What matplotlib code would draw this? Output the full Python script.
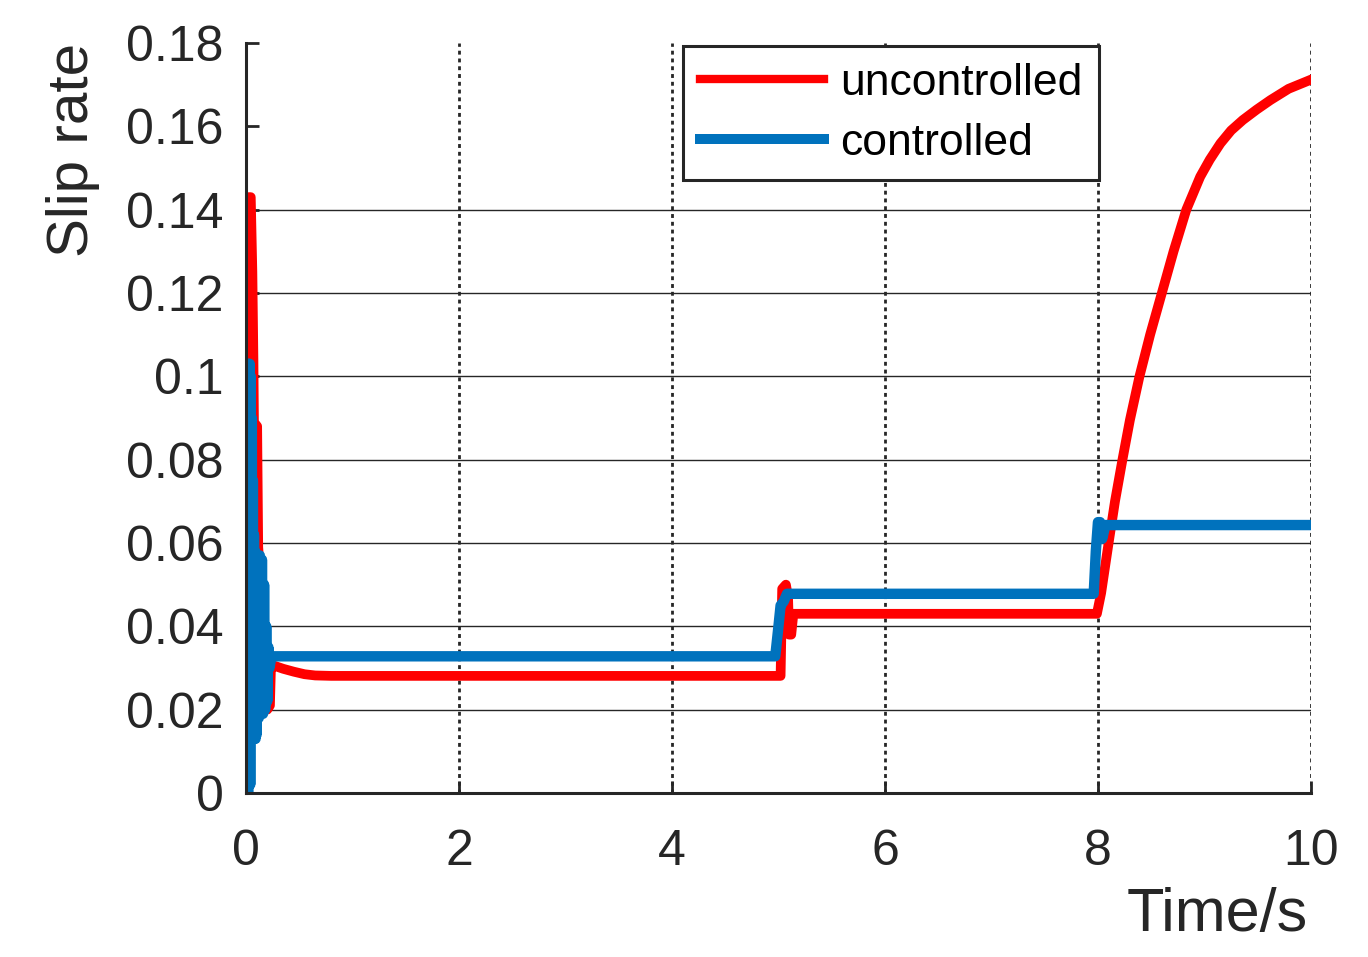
import numpy as np
import matplotlib
matplotlib.use("Agg")
import matplotlib.pyplot as plt

plt.rcParams['font.family'] = ['Liberation Sans', 'DejaVu Sans']

# uncontrolled slip rate
t_unc = [0.0, 0.01, 0.025, 0.045, 0.06, 0.07, 0.075, 0.105, 0.115, 0.14, 0.17,
         0.20, 0.225, 0.235, 0.27, 0.35, 0.45, 0.55, 0.65, 0.8,
         5.02, 5.035, 5.07, 5.09, 5.10, 5.12, 5.14,
         7.99, 8.03, 8.10, 8.16, 8.23, 8.30, 8.39, 8.49, 8.60, 8.71, 8.83, 8.96,
         9.05, 9.15, 9.25, 9.36, 9.49, 9.62, 9.79, 10.0]
s_unc = [0.0, 0.10, 0.143, 0.143, 0.125, 0.104, 0.089, 0.088, 0.059, 0.05, 0.03,
         0.02, 0.021, 0.0305, 0.0305, 0.0298, 0.0291, 0.0285, 0.0282, 0.0281,
         0.0281, 0.049, 0.050, 0.047, 0.038, 0.038, 0.043,
         0.043, 0.048, 0.060, 0.070, 0.080, 0.0895, 0.100, 0.110, 0.120, 0.130, 0.140, 0.1479,
         0.152, 0.1559, 0.159, 0.1615, 0.164, 0.1663, 0.169, 0.1712]

# controlled slip rate
t_ctl = [0.000, 0.005, 0.010, 0.015, 0.020, 0.025, 0.030, 0.035, 0.040, 0.045,
         0.050, 0.055, 0.060, 0.065, 0.070, 0.075, 0.080, 0.085, 0.090, 0.095,
         0.100, 0.110, 0.120, 0.130, 0.140, 0.150, 0.160, 0.170, 0.180, 0.190,
         0.200, 0.210, 0.220, 0.240,
         4.97, 5.00, 5.02, 5.05, 5.08, 7.96, 7.98, 8.00, 8.02, 8.04, 8.07, 10.0]
s_ctl = [0.0, 0.065, 0.0, 0.095, 0.0, 0.103, 0.002, 0.103, 0.002, 0.100,
         0.013, 0.090, 0.013, 0.075, 0.013, 0.062, 0.013, 0.058, 0.013, 0.057,
         0.014, 0.057, 0.018, 0.057, 0.019, 0.056, 0.019, 0.050, 0.020, 0.040,
         0.022, 0.035, 0.030, 0.0328,
         0.0328, 0.040, 0.045, 0.046, 0.0478, 0.0478, 0.058, 0.065, 0.065, 0.061, 0.0643, 0.0643]

xticks = [0, 2, 4, 6, 8, 10]
yticks = [0, 0.02, 0.04, 0.06, 0.08, 0.1, 0.12, 0.14, 0.16, 0.18]
ytick_labels = ["0", "0.02", "0.04", "0.06", "0.08", "0.1", "0.12", "0.14", "0.16", "0.18"]

axis_col = "#262626"

fig = plt.figure(figsize=(13.68, 9.57), dpi=100)
ax = fig.add_axes([0.1798, 0.1714, 0.9583 - 0.1798, 0.9551 - 0.1714])

ax.plot(t_unc, s_unc, color="#ff0000", lw=7.0, label="uncontrolled", solid_joinstyle="round")
ax.plot(t_ctl, s_ctl, color="#0072bd", lw=7.5, label="controlled", solid_joinstyle="round")

ax.set_xlim(0, 10)
ax.set_ylim(0, 0.18)
ax.set_xticks(xticks)
ax.set_yticks(yticks)
ax.set_yticklabels(ytick_labels)

# horizontal solid grid (only 0.02 .. 0.14 visible in the original)
for y in yticks[1:8]:
    ax.axhline(y, color=axis_col, lw=1.0, zorder=0.5)
# vertical dotted grid
for x in xticks[1:]:
    ax.axvline(x, color=axis_col, lw=2.0, ls=(0, (1.4, 1.4)), zorder=0.5)

for side in ["top", "right"]:
    ax.spines[side].set_visible(False)
for side in ["left", "bottom"]:
    ax.spines[side].set_linewidth(2.2)
    ax.spines[side].set_color(axis_col)

ax.tick_params(axis="both", direction="in", length=9, width=2, colors=axis_col,
               labelsize=36, labelcolor=axis_col)
ax.tick_params(axis="x", pad=26)
ax.tick_params(axis="y", pad=16)

ax.set_ylabel("Slip rate", fontsize=42, color=axis_col, loc="top")
ax.yaxis.set_label_coords(-0.137, 1.0)
ax.set_xlabel("Time/s", fontsize=44, color=axis_col, loc="right")
ax.xaxis.set_label_coords(0.997, -0.125)

leg = ax.legend(loc="upper right", bbox_to_anchor=(0.801, 0.996), fontsize=32,
                frameon=True, fancybox=False, framealpha=1, edgecolor=axis_col,
                handlelength=2.8, handletextpad=0.35, labelspacing=0.42,
                borderpad=0.38, borderaxespad=0)
leg.get_frame().set_linewidth(2.2)
for line in leg.get_lines():
    line.set_linewidth(6.0 if line.get_label() == "uncontrolled" else 7.2)

fig.savefig("out.png", dpi=100)
